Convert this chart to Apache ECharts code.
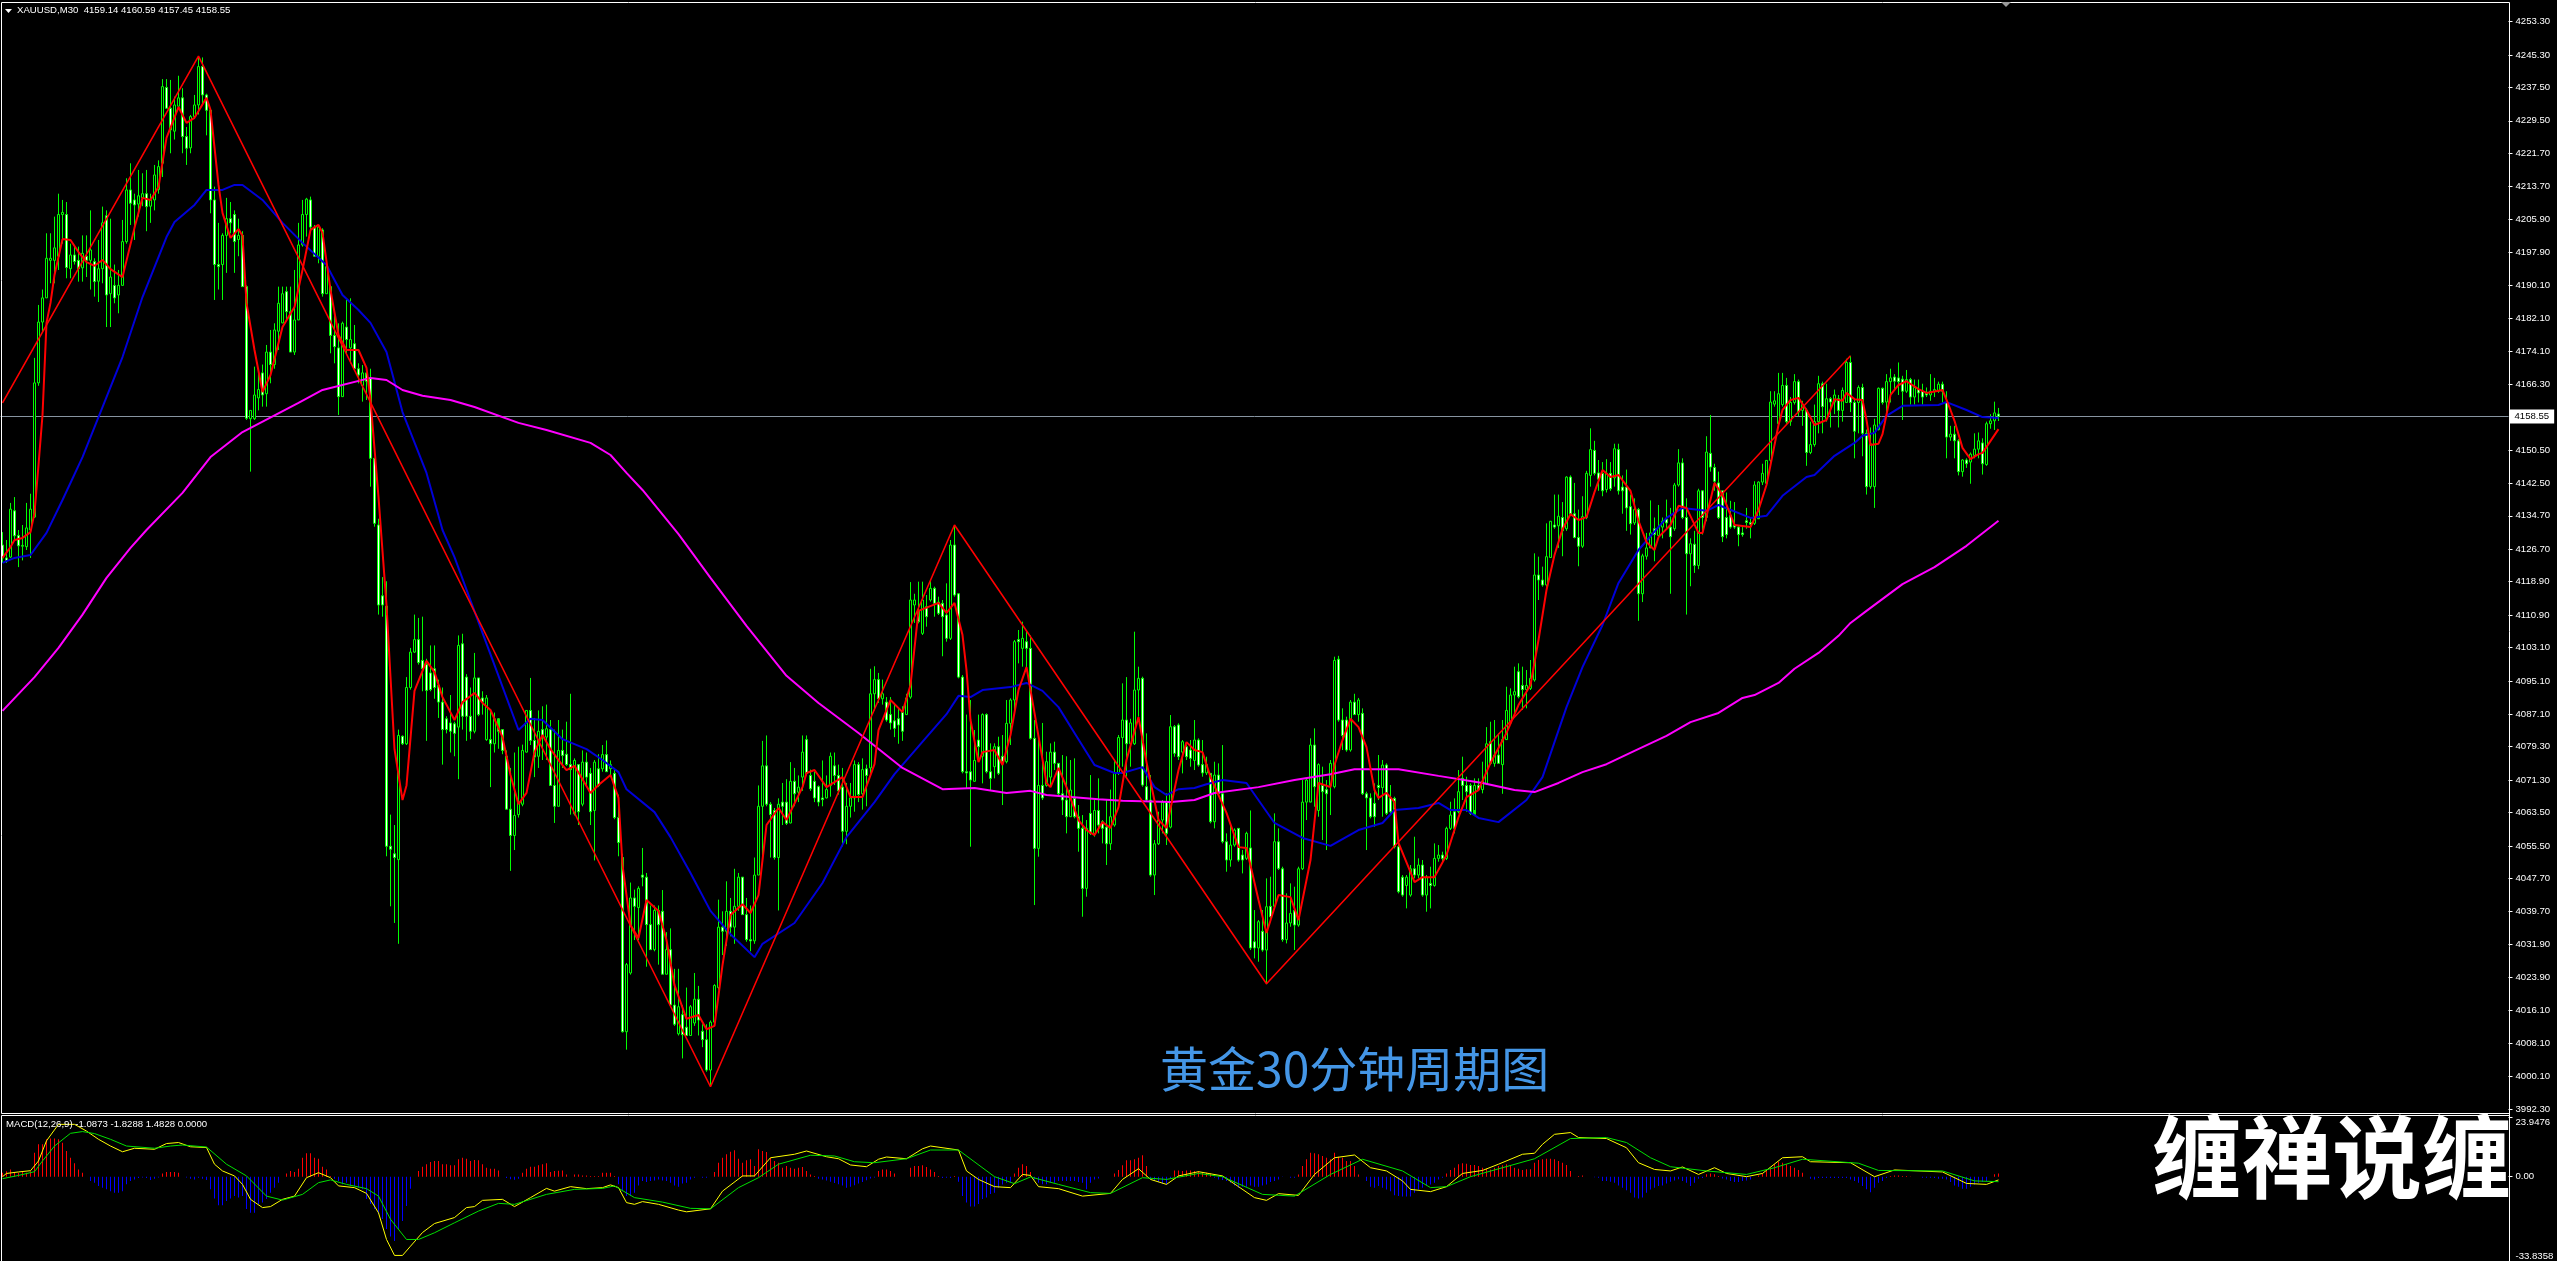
<!DOCTYPE html>
<html><head><meta charset="utf-8">
<style>html,body{margin:0;padding:0;background:#000;overflow:hidden}#c{width:2557px;height:1261px}</style>
<script src="https://cdn.jsdelivr.net/npm/echarts@6/dist/echarts.min.js"></script>
</head><body><div id="c"></div>
<script>
const slotCount = 627;
const priceTicks = [4253.3,4245.3,4237.5,4229.5,4221.7,4213.7,4205.9,4197.9,4190.1,4182.1,4174.1,4166.3,4150.5,4142.5,4134.7,4126.7,4118.9,4110.9,4103.1,4095.1,4087.1,4079.3,4071.3,4063.5,4055.5,4047.7,4039.7,4031.9,4023.9,4016.1,4008.1,4000.1,3992.3];
const macdTicks = [23.9476,0,-33.8358];
const lastPrice = 4158.55;
// candle rows: open, close, low, high
const candlesA = [[4127.7,4124.6,4123.4,4130.8],[4124.6,4124,4123.4,4128.9],[4124.8,4136.3,4124.6,4137.8],[4135.9,4129.9,4128.9,4139.2],[4130,4127.5,4122.4,4131.3],[4127.4,4127.6,4124,4132.5],[4127.3,4131.8,4126.5,4137.8],[4131.3,4136.3,4124.6,4140],[4134.4,4166.6,4134.2,4172.6],[4166.6,4181.2,4165.9,4185.3],
[4181.2,4187,4179,4189],[4187,4196.5,4187,4202.5],[4196,4196.5,4190.5,4202.5],[4196,4199,4190.5,4206.5],[4197,4207,4193.7,4212],[4207,4207.5,4200,4210.5],[4207,4194.3,4191.7,4210],[4194,4197.3,4191.7,4200],[4197.3,4195.7,4195,4199.7],[4196,4194,4190.9,4199.3],
[4194.2,4197.7,4190.9,4202],[4197,4196,4192,4202],[4196,4198.5,4189,4208],[4195.7,4190.9,4187.3,4196.5],[4191,4194,4186,4200.9],[4194,4205,4190.5,4208.9],[4206.7,4187.7,4180,4208],[4188,4192,4180,4206],[4190,4187,4185.7,4195],[4187.7,4190,4183.3,4193.7],
[4190,4200.5,4190,4205.7],[4200.5,4212.9,4200,4215.7],[4212.9,4209.7,4204.5,4219.3],[4210.5,4209.3,4200.9,4212],[4209.5,4211.5,4206.5,4217.7],[4211,4212,4209,4216.9],[4212,4208.9,4203,4217.7],[4209,4210.5,4205,4212],[4210.5,4216.5,4208,4218.9],[4213,4218.5,4212,4220],
[4219.3,4237.7,4216,4239.5],[4237.5,4232.5,4232.5,4239.5],[4232.5,4227.3,4221.7,4239.3],[4227,4233.3,4225,4235.3],[4233,4235,4232.9,4240.3],[4235,4225.7,4221.7,4237.3],[4225.7,4222.9,4218.9,4228],[4223,4230.5,4221.7,4230.9],[4230.5,4233.3,4230,4235.7],[4233.3,4242.5,4231,4245],
[4242.5,4235.7,4233.3,4244.7],[4235.7,4232,4226,4236],[4232,4210.5,4207.3,4232],[4210.5,4195,4186.5,4213.7],[4195,4194.5,4189,4205],[4195,4202,4186.5,4202.5],[4202,4206,4193,4211],[4206,4205,4202.5,4210],[4207,4200.5,4193,4208],[4201,4202,4197,4206],[4202,4189.7,4189.7,4203]];
const candlesB = [[4189.7,4158.1,4157.7,4190],[4158,4160,4145.3,4160],[4158,4163.7,4157.7,4170.5],[4163,4165,4160,4170],[4169,4163.7,4160.9,4171],[4164,4174,4160.9,4175.7],[4174,4171,4166.5,4179.3],[4171,4179.3,4170,4180.9],[4179,4185.7,4174.5,4189.7],[4181,4188,4180.9,4189.7],
[4188.5,4183.7,4181.7,4189.7],[4183.7,4174,4174,4189.7],[4174,4181.7,4173.3,4193.7],[4181.7,4199.7,4181.7,4205],[4199.7,4207,4199.3,4210.5],[4207,4210.7,4201.7,4211],[4210.5,4204,4203.3,4211.3],[4204,4197,4196.9,4204.5],[4197,4204,4195.3,4204.5],[4203.3,4188,4187.3,4203.7],
[4188,4194.5,4188,4195.3],[4189.7,4178,4173.7,4190],[4178,4175.3,4171.3,4184],[4175,4163.3,4158.9,4180.9],[4163.3,4180.9,4163.3,4181.3],[4180,4177,4173.7,4186.5],[4175,4177,4171.3,4186.9],[4176,4170,4170,4180.5],[4170,4168.5,4166.5,4171.3],[4166,4169,4162.1,4170.9],
[4169,4167,4162.5,4169.7],[4167.7,4148.5,4141.7,4170],[4148.5,4132.9,4132.1,4148.5],[4132.5,4113.3,4111,4134],[4115.5,4113.3,4110.5,4120],[4113,4055.4,4053,4119],[4055.4,4054.7,4041,4063],[4053.6,4052.7,4037,4060.5],[4052.2,4082,4032,4083.4],[4081.8,4080,4079.7,4082],
[4080,4093.5,4079.7,4096],[4093.5,4102,4093,4103],[4102,4105,4101.8,4111],[4105,4099.5,4099,4110.2],[4100,4098,4092.6,4110.5],[4099,4092.8,4080.7,4100.4],[4097,4093,4092.6,4103.6],[4098,4093.5,4090.8,4103.6],[4094,4090,4086.2,4095.4],[4090,4083.4,4075,4093.5],
[4086,4083.4,4082.5,4086.6],[4085,4083,4077.9,4091.7],[4084.8,4082.5,4077,4085.3],[4084,4103.6,4071.5,4106],[4104,4086.6,4083.4,4106.4],[4096,4086.6,4080.7,4096.7],[4086.6,4083,4081.1,4093.5],[4083,4095.8,4082.5,4101.8],[4095.8,4087,4086.6,4095.8],[4091,4090,4087,4092.6]];
const candlesC = [[4081,4091,4080.7,4091.7],[4081,4080,4069.6,4088],[4080,4086,4077.9,4087.5],[4086,4083,4078.8,4083.4],[4083.4,4078.4,4077.5,4083.4],[4077,4064.3,4064.3,4078.4],[4064.3,4058,4049.5,4074.2],[4058,4062.8,4054.5,4077.9],[4063,4066,4062.3,4079.3],[4065.5,4078.4,4065,4079.8],
[4078,4088,4077.9,4088],[4088,4080.8,4079.7,4095.8],[4080.8,4076.8,4072,4086.2],[4077,4083,4074.2,4088],[4083.4,4081.6,4076.1,4089],[4081.6,4083.6,4076.1,4089.4],[4083.4,4070,4070,4085.7],[4070,4065,4061,4083.4],[4065,4078.4,4065,4085.7],[4078.4,4077.2,4074.2,4083.4],
[4077.5,4075,4074.7,4085.3],[4075,4073.8,4063,4092],[4063.2,4076,4062.8,4076.5],[4075,4063.7,4060.5,4075],[4065.5,4075.6,4065,4078.4],[4075.6,4072,4070.1,4077.9],[4072.9,4063.7,4060.5,4074.2],[4064,4075.6,4052,4076.1],[4074,4070,4069.6,4077.5],[4074,4077.4,4073.3,4079.7],
[4077.4,4073.3,4073.3,4080.8],[4074,4075,4072.4,4076],[4072.9,4062.3,4061.9,4074.2],[4062.3,4056.3,4053,4067.8],[4052.7,4010.9,4010.7,4053.6],[4010.9,4027,4006.6,4027.4],[4025,4043,4024.6,4046.7],[4043,4041,4032.9,4045],[4040.7,4045.3,4032.9,4045.8],[4048.5,4048,4045.8,4055],
[4048,4036.6,4026.5,4049],[4036.6,4030.6,4030.6,4041.2],[4030.6,4040,4030.2,4041.2],[4040,4036.6,4027,4041.2],[4039.8,4024.7,4024.7,4044.9],[4024.7,4030.6,4024.7,4034.8],[4030.6,4017.3,4017.3,4035.7],[4017.3,4012.7,4012.3,4026],[4010.4,4016.9,4010,4026],[4015,4010.2,4004.5,4017.3],
[4012,4010,4010,4021.5],[4010,4016.9,4010,4017.3],[4013,4018.7,4012.3,4025],[4018.7,4013.7,4010,4021.9],[4011,4009,4007.2,4012.7],[4009,4001.7,4001.3,4012.7],[4001.7,4013.2,3998,4013.6],[4013.2,4022,4012.3,4022.3],[4021.5,4036,4021,4042.6],[4036,4035,4029.3,4039.8]];
const candlesD = [[4035,4039.8,4031.5,4047],[4039.8,4036,4033.8,4043],[4036,4041,4032,4050],[4041,4048,4039.9,4049],[4048,4039,4039,4048],[4039,4033,4032.5,4043],[4033,4032.7,4030.2,4041.2],[4032.7,4048.5,4032,4052.7],[4048.5,4065,4048.5,4070],[4065,4074.7,4052.7,4080.7],
[4074.7,4065.5,4065,4082],[4065.5,4063,4052.7,4066],[4064,4052.7,4052.2,4064.6],[4052.7,4065.5,4040,4066.9],[4066,4065,4060.5,4070.6],[4066,4060.9,4060.5,4071.5],[4061,4071,4060.9,4075.6],[4071,4068,4065,4074.2],[4068.4,4069.6,4066,4072.4],[4072,4078,4068.7,4082],
[4081,4072.9,4072.4,4082],[4072.4,4069.2,4068.7,4073.8],[4071,4067,4066,4073.3],[4069.7,4066,4065,4070],[4067,4066.6,4065,4076],[4067,4069,4066.9,4072.4],[4070,4077,4067.3,4077.9],[4074.7,4072.4,4070.1,4077.9],[4072.4,4068.7,4067.8,4075],[4069.6,4059,4055.4,4074.2],
[4059,4065,4055.9,4070.6],[4065,4067,4062.3,4070.6],[4067,4075,4063.7,4076],[4075,4067.8,4066,4075.6],[4068,4073.8,4064.2,4076.5],[4074,4072.4,4065,4075],[4074.2,4092,4072.9,4098],[4092,4095.4,4088,4098.6],[4095.4,4090.8,4089.8,4097],[4090.8,4092,4089.4,4095.4],
[4090,4085.7,4085.3,4091.2],[4087,4085,4083.4,4091.2],[4085.5,4083.7,4081.6,4089.8],[4086,4084.5,4080,4088.5],[4087.5,4083,4080.7,4089],[4087,4091,4087,4092],[4091.2,4114.5,4090.8,4118.8],[4113.3,4114.5,4109,4116],[4112,4109.3,4108.9,4118.9],[4106.5,4114.5,4106.1,4118.9],
[4112.9,4110.5,4108.1,4115.7],[4114.5,4117.3,4114.1,4119.3],[4117.3,4113.7,4110.5,4117.7],[4114,4111.3,4110.9,4115.3],[4113.7,4110.5,4101,4114.5],[4110.9,4105.3,4104.5,4118.5],[4105.3,4127.7,4104.9,4128.9],[4127.7,4115.7,4115.3,4132.5],[4116,4096,4095.7,4116.1],[4096,4073.3,4072.9,4096.5]];
const candlesE = [[4073.3,4073,4069.3,4087],[4073.3,4071.3,4055.3,4090.5],[4071,4076,4070.9,4083.3],[4080.9,4079.3,4076.1,4087],[4077,4087,4070.5,4087.3],[4087,4073.3,4072.9,4087.3],[4073.3,4071.7,4068.9,4080.1],[4074.5,4079.3,4071.7,4080.1],[4079.3,4072.9,4072.5,4081.7],[4077,4075.7,4065.3,4082.1],
[4075.7,4084.9,4075.3,4090.5],[4084.9,4090.5,4079.7,4090.9],[4090.5,4104.5,4087.3,4104.9],[4105,4104.5,4099.3,4107.3],[4102.9,4105.3,4098.5,4109.3],[4104.5,4102.9,4098,4107],[4102.9,4081.3,4081,4106],[4081.3,4054.9,4041.3,4085.7],[4054.9,4070,4052.9,4080.9],[4070,4067,4066.5,4085],
[4070,4075.7,4069.7,4078.1],[4072,4078,4069.7,4080.1],[4078,4075.3,4073.7,4080.5],[4075.3,4068,4067.3,4075.3],[4068,4066.5,4062.9,4077.3],[4066.5,4062.5,4058.5,4077],[4062.5,4068.9,4062.5,4076.1],[4066.9,4062.5,4062.1,4076.5],[4062.5,4059.7,4054.1,4065.3],[4059.7,4045.3,4038.5,4062.9],
[4045.3,4059.7,4043.3,4061.7],[4063.3,4058.5,4058.1,4072.5],[4058.5,4064,4057.7,4066.5],[4064,4060.5,4058.5,4071.7],[4061.3,4059.7,4056.1,4061.7],[4060,4056,4050.9,4066.5],[4056,4062.5,4054.5,4069],[4060.5,4072.9,4060.1,4076.1],[4072.9,4081.5,4072.5,4082.1],[4081.5,4085.7,4074.5,4094.5],
[4085.7,4080,4072.1,4096],[4080,4085,4074.5,4086],[4080,4092.9,4079.7,4106.9],[4092.9,4095.7,4086.5,4098.5],[4095.7,4070.1,4069.7,4096.1],[4069.7,4066.5,4066.1,4082.5],[4066.5,4048.5,4048.1,4072.5],[4048.5,4056,4043.7,4056.9],[4056,4061.7,4055.7,4063.7],[4061.7,4066,4058.5,4066.5],
[4066,4058.5,4055.7,4068.1],[4060,4084.1,4059.7,4086.9],[4084.1,4077.7,4076.9,4084.5],[4084.5,4076.9,4076.1,4084.9],[4078,4080.5,4072.9,4080.9],[4079.3,4076.9,4076.1,4079.7],[4078.5,4076.5,4074.5,4080.9],[4076,4080.9,4073.7,4085.7],[4080.9,4074.9,4074.5,4081.3],[4075,4073,4072.1,4080.9]];
const candlesF = [[4073,4075,4072.5,4076.9],[4072.9,4061.3,4060.9,4072.9],[4061.3,4072.5,4059.7,4075.7],[4072.5,4068,4068.1,4075.3],[4068,4056.5,4056.1,4079.7],[4056.5,4052.1,4049.3,4058.5],[4052.1,4055.7,4050.5,4060.5],[4055.7,4059.3,4055.3,4059.7],[4059.7,4052.1,4051.7,4059.7],[4053.3,4052.1,4048.9,4054.5],
[4052.5,4058.5,4052.1,4058.9],[4055,4031,4030.5,4064],[4032.5,4031,4028.5,4040.1],[4031,4037.3,4027.7,4037.7],[4035,4030.5,4030.1,4040.1],[4030.5,4040.9,4022.3,4047.7],[4041,4038.5,4037.7,4048.1],[4041,4056.5,4040.9,4063.3],[4056.5,4050.1,4049.7,4059.7],[4050,4033,4032.5,4050.5],
[4033,4037,4032.1,4044.1],[4037,4039.3,4036.1,4046.5],[4040,4036.5,4030.5,4045.7],[4036.5,4050,4036.1,4050.5],[4050,4066,4049.7,4071.3],[4066,4071.3,4061.7,4071.7],[4066,4079.7,4066.1,4081.3],[4079.7,4069.7,4064.9,4083.7],[4064,4075,4062.5,4075.3],[4070,4068.5,4056.9,4074.5],
[4069,4068,4054.5,4071.3],[4070,4075.3,4062.9,4076.1],[4069.7,4100,4069.3,4100.9],[4100.3,4085.7,4085.3,4101.1],[4085.7,4082,4078.5,4088.5],[4085.7,4078.5,4078.1,4086.5],[4078.5,4090,4078.1,4090.5],[4090,4087,4086.9,4092],[4087,4090.5,4085.3,4091],[4087.3,4068,4067.7,4088.5],
[4068,4067,4054.5,4068.5],[4067,4062.5,4062.1,4068.1],[4065.7,4062.5,4060.1,4070.5],[4070,4069.5,4066.5,4077.3],[4069.5,4074.9,4062.5,4076.1],[4074.9,4063.3,4062.9,4075.3],[4067,4063.7,4063.3,4070.1],[4066.9,4055.3,4054.9,4067.3],[4055.3,4044.5,4044.1,4056.9],[4048,4043.7,4043.3,4048.5],
[4046,4048,4040.5,4048.5],[4043.7,4050,4043.3,4050.9],[4050,4048.5,4047.7,4057.7],[4048.5,4050.9,4047.7,4052.5],[4050.9,4043.7,4043.3,4052.1],[4043.7,4048,4039.7,4048.5],[4046.5,4046,4040.5,4050.5],[4046,4052.5,4045.7,4056.1],[4052.5,4053.3,4051.7,4055.7],[4053.3,4052.5,4051.7,4054.1]];
const candlesG = [[4052.5,4059.7,4052.1,4060.1],[4059.7,4062.9,4059.3,4066.1],[4063.7,4059.7,4058.5,4066.9],[4063.7,4068.5,4063.3,4073.7],[4071.7,4070,4066.5,4076.9],[4070,4068.5,4063.7,4072.1],[4070,4063.3,4062.9,4070.5],[4063,4070,4064.1,4071.7],[4070,4069,4068.9,4071.7],[4069,4071,4068.1,4075.7],
[4070.5,4080,4070.1,4084],[4080.5,4075.3,4074.9,4085.3],[4075.3,4077.3,4074.5,4085.7],[4077.3,4075.3,4075.3,4082.5],[4075,4081,4068,4085.7],[4081,4088,4080.9,4093.7],[4085,4091.7,4084.5,4093.3],[4091.7,4092.5,4087.3,4098.5],[4097.3,4091.3,4090.9,4099.3],[4094,4093,4088.1,4098.5],
[4093,4094,4088.5,4097.7],[4093.3,4095.7,4092.9,4100.1],[4095.3,4120.5,4094.9,4125.7],[4120.5,4119.3,4114.5,4124.9],[4119.3,4118.1,4117.7,4122.5],[4118.1,4124.9,4117.7,4132.9],[4124.7,4133.4,4124.7,4133.3],[4132.5,4132,4131.6,4139.8],[4132.3,4134.6,4127,4139.8],[4134.3,4131.1,4125,4138],
[4131.6,4144,4131.1,4144.2],[4144,4135.2,4134.8,4144.4],[4135.2,4129.5,4129.3,4142.6],[4129.5,4127.4,4122.6,4136.2],[4127.4,4134.5,4127,4139.4],[4134.3,4144.9,4133.9,4145.5],[4144.4,4150.6,4141.7,4155.7],[4150.4,4144.9,4144.4,4152.7],[4145,4143.5,4140.7,4148.1],[4144.9,4140.7,4139.4,4147.6],
[4141,4144.9,4140.3,4148.3],[4144.9,4141.2,4140.7,4147.6],[4143.8,4150.8,4141.7,4152],[4150.6,4140.7,4139.8,4152],[4141.6,4140.7,4135.2,4144.4],[4141.6,4136.6,4131.1,4145.8],[4136.9,4132.8,4130.2,4139.8],[4133,4136.2,4132.5,4138.9],[4136.2,4116,4109.5,4136.6],[4116,4125.1,4114,4125.6],
[4125,4127,4124.2,4130.6],[4127,4130.6,4127.4,4138.4],[4131.6,4130.2,4123.8,4134.3],[4130,4132,4129.7,4137.3],[4132,4133.4,4129.3,4134.3],[4133.9,4133,4131.6,4138.6],[4132,4129.7,4116,4136.6],[4131.6,4142.1,4131.1,4142.6],[4142.1,4147.4,4141.7,4150.7],[4147.4,4134.3,4133.9,4148.5],
[4134.3,4125.6,4111,4138.9],[4125.6,4128,4117.8,4129.3],[4127.9,4122.8,4121,4131.1],[4122.8,4140.7,4121.9,4141.2],[4140.7,4134.3,4130.2,4140.9],[4134.3,4150,4133.4,4153.8],[4149.7,4146.4,4145.3,4158.9],[4146.3,4143,4140.7,4147.2],[4142.6,4134.3,4133.9,4145.3],[4140.7,4129.7,4128.4,4140.7]];
const candlesH = [[4134.3,4130.2,4129.3,4140.3],[4134.8,4132,4131.6,4138.3],[4132.5,4132,4131.6,4138],[4132,4130.2,4127.4,4132.5],[4130.6,4130.2,4129.7,4132],[4133.5,4133.1,4131.6,4136.6],[4133.1,4132.7,4129.3,4134.3],[4132.9,4142.1,4132.5,4143],[4134,4142.8,4134.3,4143],[4142.8,4144.9,4142.1,4147.2],
[4142.5,4148,4142.6,4148.1],[4148,4162,4147.6,4164.6],[4161.5,4162.3,4160.9,4164.6],[4156.8,4164,4156.3,4169],[4161.4,4166,4160.9,4169],[4166,4157.3,4156.8,4167.8],[4157.3,4161.9,4156.3,4163.2],[4161.9,4166.9,4161.4,4168.7],[4166.9,4159.6,4158.6,4167.4],[4160,4161.4,4156.3,4162.3],
[4160,4149.9,4146.7,4160.5],[4149.9,4151.8,4149.5,4157.3],[4151.8,4157.3,4151.3,4161.4],[4157.3,4166.4,4154.5,4168.3],[4166.4,4160.9,4154.5,4166.9],[4158,4162.8,4157.3,4166.4],[4162.8,4162,4155.9,4163.2],[4162,4163.7,4159.1,4165],[4162.8,4160,4155.9,4163.7],[4160,4164.8,4157.3,4165.5],
[4161.9,4171.5,4161.9,4172.4],[4171.5,4161.9,4159.6,4173.1],[4161.9,4155,4148.5,4162.8],[4161.9,4165.5,4154.5,4166],[4165.5,4154.5,4149,4166.4],[4154.5,4141.7,4139.8,4155.4],[4141.7,4152,4141.2,4155.9],[4141.7,4156.5,4136.6,4158],[4155.4,4165.3,4155.2,4165.5],[4165.3,4161.9,4161.4,4165.5],
[4162,4166.9,4158.6,4168.7],[4166.9,4167.8,4161.9,4170],[4168,4167,4165,4168.7],[4167.8,4166.9,4163.7,4171.5],[4167.5,4164.6,4157.7,4168.3],[4164.6,4167.4,4164.2,4169.7],[4167.4,4163.2,4161.4,4167.8],[4163.2,4165.5,4161.4,4167.4],[4165,4164.2,4161.9,4167.4],[4164.6,4163.2,4161.4,4166.4],
[4164.1,4163.7,4163.2,4165.5],[4163.7,4164.6,4162.3,4168.7],[4164.6,4165,4163.2,4167.8],[4164.6,4166.3,4164.2,4166.9],[4166.3,4164.6,4161.9,4166.9],[4161.9,4153.6,4148.5,4164.6],[4153.6,4154.3,4152.7,4156.3],[4154.3,4152.7,4148.5,4156.3],[4152.7,4145.3,4144.4,4153.1],[4145.3,4148.1,4144.1,4148.3],
[4148.1,4147.2,4146.2,4148.5],[4147.6,4149.5,4142.4,4149.9],[4149.2,4150.7,4148.5,4154.5],[4150.7,4152.7,4148.5,4154.7],[4152.2,4147.2,4144.6,4153.3],[4147,4156.8,4146.7,4157.3],[4156.8,4157.5,4155.6,4159.1],[4157.5,4159.4,4155.3,4162.1],[4159.14,4158.55,4157.45,4160.59]];
const zigzagPoints = [[0,4161.8],[49,4245],[177,3997.7],[238,4132.5],[316,4022.4],[462,4173.1]];
const fastMaPoints = [[0,4124.6],[2,4127.2],[3,4128.9],[5,4129.4],[7,4130.8],[8,4135.4],[9,4146.9],[10,4158.9],[11,4181],[12,4185.8],[13,4192.5],[15,4201.1],[17,4200.9],[19,4198],[21,4195.6],[23,4194.7],[25,4196.1],[27,4193.9],[30,4192],[33,4203.8],[35,4211],[37,4210.5],[39,4213.6],[41,4225.4],[44,4232.8],[46,4229],[48,4230.2],[51,4235],[52,4232.1],[54,4214.1],[55,4207.4],[57,4201.4],[59,4203.5],[60,4201.9],[61,4185.8],[63,4174.5],[65,4164.4],[67,4168.5],[70,4180],[73,4184.8],[75,4193.7],[77,4203.3],[79,4204.5],[80,4202.6],[82,4188.9],[84,4178.1],[86,4174.5],[89,4174.5],[91,4170.2],[92,4162.5],[94,4139.2],[96,4113.3],[98,4078.7],[100,4066.5],[101,4070],[103,4092.7],[106,4099.9],[108,4097.2],[110,4091.2],[113,4085.7],[115,4090],[118,4092.2],[120,4089.8],[122,4088.1],[125,4081.6],[127,4072.5],[129,4065.5],[131,4068.2],[133,4078],[135,4082.1],[137,4078.7],[139,4076.1],[141,4073.7],[143,4074.7],[145,4071.5],[147,4068.2],[149,4070.1],[152,4072.5],[154,4067],[155,4050.9],[157,4036.5],[159,4033.4],[161,4042.5],[164,4039.9],[166,4032.9],[168,4022.1],[171,4014],[174,4014.9],[176,4011.5],[178,4012.3],[180,4026.9],[182,4038.9],[185,4041.5],[187,4039.4],[189,4043.7],[191,4060.5],[194,4064.6],[196,4061.7],[200,4069.6],[201,4073],[203,4073.7],[206,4069.6],[210,4072],[212,4067.2],[215,4067.2],[218,4075.1],[219,4083.3],[222,4090.5],[225,4087.6],[227,4094.1],[229,4111.9],[234,4113.8],[236,4111.4],[238,4113.8],[240,4106.1],[241,4097.7],[242,4085.7],[244,4075.6],[245,4078],[248,4078.5],[250,4074.9],[252,4082.1],[254,4092.9],[256,4098.4],[258,4087.4],[261,4070.6],[262,4069.6],[264,4074.2],[266,4069.6],[269,4061.7],[271,4059.3],[273,4058.1],[275,4061.2],[277,4059.8],[279,4064.8],[281,4076.1],[284,4086.4],[286,4075.6],[289,4061.7],[291,4059.8],[294,4073.7],[296,4080.4],[298,4078.5],[300,4078],[302,4072],[306,4063.4],[309,4055.2],[311,4055],[314,4042.5],[316,4034.6],[319,4043.7],[322,4043.2],[324,4037.7],[327,4052.1],[329,4070.6],[332,4069.6],[333,4074.9],[335,4080.9],[337,4086],[339,4084],[341,4079.2],[343,4068.9],[344,4067],[346,4068.2],[348,4066],[349,4056.2],[352,4049.2],[353,4046.8],[355,4048],[358,4048],[361,4053.3],[364,4062.4],[366,4067.2],[369,4068.9],[372,4075.4],[376,4082.6],[379,4089.3],[382,4094.1],[384,4104.9],[386,4116.9],[388,4125.3],[390,4131.5],[392,4135.1],[394,4133.7],[396,4134.4],[398,4140.4],[400,4145.7],[402,4144],[404,4144.5],[407,4140.7],[409,4133.5],[411,4128.4],[413,4126.5],[414,4129.6],[417,4132.5],[419,4137.1],[421,4136.6],[424,4130.6],[425,4130.6],[428,4142.6],[430,4139.7],[433,4132.5],[437,4132],[439,4136.1],[441,4142.1],[444,4156.5],[445,4160.1],[447,4162.5],[449,4163],[451,4160.1],[453,4156.5],[456,4157.7],[458,4162.7],[460,4162.3],[461,4164.2],[463,4162.7],[465,4162.5],[466,4157.7],[467,4151.7],[469,4152],[470,4154.3],[472,4163.7],[474,4166.1],[476,4167],[479,4165.1],[481,4164.2],[485,4164.9],[487,4160.1],[488,4157.5],[490,4151],[492,4148.3],[494,4149.5],[495,4149.8],[499,4155.5]];
const midMaPoints = [[0,4123.4],[3,4124.6],[7,4125.3],[11,4130.6],[15,4138.5],[20,4148.8],[24,4158.4],[30,4172.8],[35,4187.2],[41,4201.6],[43,4205.2],[48,4209.3],[51,4212.9],[55,4212.9],[58,4214.1],[60,4214.1],[65,4210.5],[70,4205],[75,4200.2],[81,4194.9],[85,4187.7],[89,4184.1],[92,4181],[96,4174],[100,4159.6],[106,4145],[110,4131.3],[113,4124.8],[119,4109.2],[124,4096.3],[129,4083.3],[132,4086],[135,4085.7],[140,4081.1],[146,4078.7],[150,4076.1],[154,4073.2],[156,4069.1],[163,4063.6],[167,4057.6],[172,4049],[177,4039.9],[182,4034.3],[188,4028.8],[190,4032],[198,4037],[205,4046.6],[211,4057.6],[218,4066],[223,4072.7],[231,4081.6],[236,4087.1],[239,4091.5],[242,4091.2],[245,4092.9],[252,4093.6],[256,4094.6],[260,4092.7],[264,4088.8],[268,4082.6],[273,4074.9],[278,4073],[280,4073],[285,4074.4],[288,4069.6],[291,4067.7],[294,4069.1],[298,4069.4],[301,4070.3],[305,4071.3],[311,4070.6],[318,4061],[325,4057.4],[332,4055.5],[339,4059.3],[345,4061],[348,4064.1],[354,4064.6],[359,4065.8],[362,4064.1],[366,4064.1],[369,4062.2],[374,4061.2],[381,4066.5],[385,4072],[391,4088.8],[395,4098.4],[400,4108.5],[404,4118.6],[409,4126.5],[416,4134.2],[420,4136.6],[426,4135.9],[429,4137.3],[437,4134.2],[441,4134.7],[445,4139.5],[451,4144],[453,4144.5],[458,4149.1],[463,4152.2],[465,4153.9],[468,4154.6],[471,4158.7],[475,4161.1],[484,4161.3],[486,4162],[491,4160.1],[495,4158.4],[499,4158.2]];
const slowMaPoints = [[0,4087.9],[8,4096],[14,4103],[20,4111],[26,4119.8],[32,4127],[36,4131.3],[45,4140.2],[52,4148.8],[60,4154.8],[74,4161.8],[80,4164.9],[92,4167.8],[96,4167.3],[100,4164.9],[105,4163.5],[112,4162.5],[118,4160.8],[129,4157],[136,4155.3],[147,4152.2],[152,4149.3],[156,4145],[160,4140.9],[169,4130.3],[177,4119.8],[186,4108.3],[196,4096.3],[204,4089.8],[214,4082.6],[225,4074.2],[235,4069.1],[243,4069.4],[251,4068.2],[257,4068.7],[261,4067.7],[274,4066.7],[280,4066.3],[292,4066],[298,4066.5],[303,4068.2],[314,4069.6],[323,4071.3],[332,4072.7],[338,4073.9],[349,4073.9],[359,4072.3],[370,4070.6],[378,4068.9],[383,4068.4],[389,4070.6],[395,4073.2],[401,4075.1],[408,4078.3],[416,4081.9],[422,4085.2],[429,4087.4],[435,4091],[438,4091.7],[444,4094.6],[448,4098],[454,4101.8],[459,4105.9],[462,4109],[466,4111.9],[475,4118.3],[483,4122.4],[491,4127.5],[499,4133.5]];
const macdPoints = [[0,0],[1,1.3],[4,1.9],[7,2.4],[9,6.3],[11,14.4],[14,21],[18,21],[21,18.3],[24,15],[27,12.3],[30,10],[33,11.4],[38,11],[41,13.3],[44,13.7],[47,12],[51,11.7],[53,5],[55,2.3],[58,0.3],[60,-3.1],[62,-9.1],[65,-12.4],[67,-12],[70,-9.1],[73,-7.8],[76,-0.4],[79,1.6],[82,-0.4],[84,-3.7],[88,-4.4],[91,-6.7],[94,-14.5],[96,-25.2],[98,-31.6],[100,-31.6],[102,-27.9],[105,-22.4],[108,-18.8],[113,-16.4],[116,-12.4],[118,-12],[120,-9.5],[125,-9.1],[128,-12],[132,-8.4],[136,-4.7],[138,-5.8],[142,-4],[146,-4.8],[150,-4.4],[152,-3.3],[154,-4.4],[156,-10.4],[158,-11.1],[160,-10],[164,-11.1],[169,-13.4],[171,-14.1],[177,-12.9],[180,-5.8],[185,0.3],[188,0.3],[192,7.6],[198,9],[201,10.3],[206,8],[209,7.2],[212,4.7],[216,4],[219,7],[221,7.9],[226,7.2],[230,11.2],[232,12.3],[239,10.7],[241,2.3],[244,-1.1],[248,-4],[252,-4.4],[255,0.9],[257,0.5],[259,-4],[264,-4.8],[270,-7.8],[277,-6.7],[280,-1.1],[284,3.2],[287,-1.1],[291,-3.1],[294,0.3],[299,2],[305,0.3],[309,-4],[313,-8.4],[316,-9.5],[319,-6.8],[324,-7.5],[328,0.9],[333,7.6],[338,8.7],[342,3.6],[346,2.3],[350,-1.7],[352,-5.1],[357,-6],[361,-4],[365,1.3],[370,2.5],[374,5],[380,9],[383,9.4],[385,13],[388,17],[392,17.7],[394,15.7],[401,15.3],[406,11.6],[409,5.6],[413,2.9],[417,2.3],[420,3.9],[424,0.9],[428,3.6],[431,1.3],[436,0],[440,1.3],[445,7.6],[450,8],[452,6],[462,5.6],[468,0],[473,2.7],[485,1.9],[491,-2.7],[496,-3.1],[499,-1.3]];
const signalPoints = [[0,-0.8],[4,0.5],[8,2],[10,6.3],[13,12.3],[17,17.4],[20,18.1],[23,17.3],[27,15],[31,12.3],[38,11.4],[42,12.3],[45,12.7],[51,11.9],[56,5],[61,0.3],[66,-7.8],[70,-9.4],[75,-7.1],[79,-2.4],[82,-1.3],[86,-3.1],[91,-4.8],[94,-7.8],[97,-17.1],[101,-25.2],[104,-25.2],[108,-22.5],[113,-18.5],[119,-13.8],[124,-10.7],[128,-11.1],[136,-7.1],[143,-5.1],[150,-4.7],[153,-3.7],[158,-8.4],[165,-10.2],[172,-12.7],[177,-12.9],[184,-4.4],[189,-0.4],[194,5],[202,8.6],[208,8.3],[213,6],[218,5.6],[226,7.2],[232,10.7],[239,10.7],[248,0],[253,-2.8],[257,-0.1],[264,-3.1],[272,-6.4],[277,-6.7],[285,-0.4],[291,-1.1],[299,1.3],[305,0],[315,-7.1],[323,-7.8],[332,0.9],[340,7],[350,2.3],[357,-4.4],[361,-4],[367,0],[375,3.6],[383,7.2],[392,15.3],[401,15.7],[406,13.7],[412,7.6],[417,4],[426,2.3],[436,0.9],[443,3.6],[450,7],[464,5.4],[469,2.5],[485,2.3],[493,-1.7],[499,-2]];
const histogramA = [1.6,2.2,2.9,1.9,1.6,1.9,1.6,2.2,9.6,13,13,15,15.3,15.3,15,13.6,10.3,7.6,5.4,2.9,1.6,0,-1.7,-2.4,-3.7,-4.4,-5,-5.8,-6.4,-6.4,-5.8,-3,-1.7,-1.1,-.5,-.3,-.5,-1.3,-.8,-.3,1.3,1.9,1.9,1.9,1.6,0,-.3,-.8,-1.1,-.4,-.8,-1.3,-5,-8.8,-11.5,-11.5,-9.8,-8.8,-7.8,-8.4,-7.8,-13,-14.5,-14.5,-11,-10.4,-9,-6.4,-4.4,-2.4,0,1.3,2.3,1.9,3.2,7.6,9.4,9.4,7.6,7.2,4,2.9,.3,-.8,-1.7,-3,-2.4,-3.7,-3.7,-4.4,-5,-9,-11,-13,-15,-17,-21,-24,-25.8,-21,-17.8,-11.8,-4.8,0,2.3,4,5,5.9,6.3,6.3,5,5,4.6,4.6,7,7.6,7.2,6.3,6.7,6.6,5,3.6,3.2,3.2,2.5,0,-.5,-1,-1.2,-.8,1.6,3.2,4,4,4.6,5,5.4,1.9,2.3,2.4,2.5,.9,0,.9,.9,.5,.5,.3,.3,.3];
const histogramB = [1.6,1.6,1.6,.3,-3,-5.8,-7.8,-7.8,-6.4,-3.5,-1.7,-2.1,-1.7,-1.5,-1.1,-1.5,-1.7,-2.4,-3.5,-4,-2.7,-2.4,-1.1,-.4,0,-.4,-.4,0,1.9,5.6,7.6,9,10,10.6,7.2,5.6,6.6,7,4.3,11,10.3,9.9,7.6,6.3,5.6,3.6,4.3,3.6,3.2,3.6,3.9,2.3,.9,.3,-.8,-1.1,-1.5,-2,-2.5,-3,-3.5,-4.4,-4,-3.4,-2.7,-2.1,-1.4,-.7,-.3,2.3,2.9,2.9,2.3,1.3,0,0,0,3.6,4.3,4.3,4.6,3.9,2.9,1.9,.3,-.5,-.4,-.5,.3,-2,-7.8,-10.4,-12,-12,-11,-9,-8.4,-7,-6.4,-4.4,-3.1,-2.4,-2.4,1.3,3.6,5,4.3,1.9,-1.1,-2.4,-3,-3,-2.4,-2.4,-1.7,-1.7,-1.7,-1.7,-1.7,-2.1,-2.4,-5,-2.4,-1.1,-.7,0,0,0,1.3,2.7,4.6,6.6,6.6,7,7.6,8.6,4.3,-1.1,-1.7,-2.1,-2.8,-3.1,-.5,2.5,2.5,2.3,2.5,2.5,2.3,2.3,1.9,1.6,1.3];
const histogramC = [-.4,-1.1,-1.3,-1.7,-2.4,-3.5,-4.4,-4,-4,-3.5,-4,-4,-3.5,-3.1,-2.1,-1.7,-1.1,-.1,0,-.4,-.4,.9,4.3,7,9.6,9.4,9,8.3,7.6,7,9.6,8,7.6,6.3,6.3,4.3,.9,0,-1.7,-4,-4.4,-3.7,-4.4,-5.1,-5.8,-7.5,-7.8,-8,-8,-8,-6.4,-5.1,-4.4,-3.5,-3.1,-2.4,-1.1,-.4,1.3,2.7,3.6,5,5.4,5.2,4.7,4.7,4.3,3.6,3.2,2.9,3.6,4.3,4.6,5,4.3,3.6,3.2,2.7,3,3,5.6,6.7,7,7.2,7.2,7,6.3,5.6,4.7,2.3,0,.3,.5,0,0,-.2,-.4,-1.7,-1.7,-2,-2.4,-3.5,-4.4,-5.4,-6.4,-8.4,-8.8,-8.4,-6.4,-5.1,-4.4,-3.7,-3.5,-2.7,-2,-1.5,-1,-1.7,-2.4,-3.7,-2.4,-.8,-.5,1,1.3,1,.3,-.7,-1.1,-1.7,-2.1,-2.1,-1.7,-1.5,-1.1,0,.5,1.3,2.3,3.2,5,6,5.6,5,4.3,3.6,2.7,1.6,0,-.8,-1.1,-.5,-.5,-.5,-.5,-.5,-.5,-.5,-.5,-1.1,-1.7,-2.4,-3.7,-5,-6.2,-4.4,-2.4,-1.7,-.5,.3,.5,.5,.3,.3,.1,0,0,-.4,-.4,-.4,-.5,-.8,-.8,-1.1,-2.1,-3.5,-4,-4.8,-4.8,-4,-3.1,-2.4,-2.1,-1.7,0,1,1.3];

const candles = [...candlesA,...candlesB,...candlesC,...candlesD,...candlesE,...candlesF,...candlesG,...candlesH];
const histogram = [...histogramA,...histogramB,...histogramC];
const slots = Array.from({length:slotCount},(_,k)=>k);
const FONT = '"Liberation Sans"';
const chart = echarts.init(document.getElementById('c'),null,{renderer:'canvas',width:2557,height:1261});
const line = (name,data,color,width,x,y,z)=>({name,type:'line',xAxisIndex:x,yAxisIndex:y,data,symbol:'none',smooth:false,z,clip:true,silent:true,lineStyle:{color,width},animation:false});
chart.setOption({
  animation:false,backgroundColor:'#000',
  grid:[{left:0.5,top:2,width:2508,height:1111},{left:0.5,top:1117,width:2508,height:144}],
  xAxis:[0,1].map(g=>({type:'category',gridIndex:g,data:slots,show:false,boundaryGap:true})),
  yAxis:[
   {type:'value',gridIndex:0,position:'right',min:3991.4,max:4258,scale:true,splitLine:{show:false},axisLine:{show:false},
    axisTick:{show:true,length:4,lineStyle:{color:'#fff'},customValues:priceTicks},
    axisLabel:{color:'#fff',fontFamily:FONT,fontSize:9.6,margin:7,customValues:priceTicks,formatter:v=>Number(v).toFixed(2)}},
   {type:'value',gridIndex:1,position:'right',min:macdTicks[2],max:macdTicks[0],splitLine:{show:false},axisLine:{show:false},
    axisTick:{show:true,length:4,lineStyle:{color:'#fff'},customValues:macdTicks},
    axisLabel:{color:'#fff',fontFamily:FONT,fontSize:9.6,margin:7,customValues:macdTicks,verticalAlignMaxLabel:'bottom',verticalAlignMinLabel:'top',formatter:v=>v===0?'0.00':String(v)}}
  ],
  series:[
   {name:'XAUUSD',type:'candlestick',xAxisIndex:0,yAxisIndex:0,data:candles,barWidth:3,z:2,silent:true,large:false,progressive:0,
    itemStyle:{color:'#000',color0:'#fff',borderColor:'#00ff00',borderColor0:'#00ff00',borderWidth:1},
    markLine:{silent:true,symbol:'none',animation:false,z:1,lineStyle:{color:'#8794a0',width:1,type:'solid'},
      data:[{yAxis:lastPrice}],
      label:{show:true,position:'end',distance:1,formatter:()=>lastPrice.toFixed(2),color:'#000',backgroundColor:'#fff',fontFamily:FONT,fontSize:9.6,padding:[2,5,2,5]}}},
   line('MA mid',midMaPoints,'#0000d8',2,0,0,4),
   line('MA slow',slowMaPoints,'#ff00ff',2,0,0,4),
   line('MA fast',fastMaPoints,'#ff0000',2,0,0,5),
   line('ZigZag',zigzagPoints,'#ff0000',1.6,0,0,5),
   {name:'Histogram',type:'bar',xAxisIndex:1,yAxisIndex:1,data:histogram,barWidth:1,z:2,silent:true,
    itemStyle:{color:p=>p.value>=0?'#ff0000':'#0000ff'}},
   line('MACD',macdPoints,'#ffff00',1,1,1,4),
   line('Signal',signalPoints,'#00e000',1,1,1,5)
  ],
  graphic:[
   {type:'polyline',silent:true,z:20,shape:{points:[[1.5,1113.5],[1.5,2.5],[2509.5,2.5],[2509.5,1261]]},style:{stroke:'#fff',lineWidth:1,fill:null}},
   {type:'line',silent:true,z:20,shape:{x1:1.5,y1:1113.5,x2:2509.5,y2:1113.5},style:{stroke:'#fff',lineWidth:1}},
   {type:'polyline',silent:true,z:20,shape:{points:[[1.5,1261],[1.5,1115.5],[2509.5,1115.5]]},style:{stroke:'#fff',lineWidth:1,fill:null}},
   {type:'polygon',silent:true,z:20,shape:{points:[[5,9],[12,9],[8.5,13]]},style:{fill:'#fff'}},
   {type:'polygon',silent:true,z:20,shape:{points:[[2001,2],[2011,2],[2006,7]]},style:{fill:'#9a9a9a'}},
   {type:'text',silent:true,z:20,left:17,top:5,style:{text:'XAUUSD,M30  4159.14 4160.59 4157.45 4158.55',fill:'#fff',font:'9.6px '+FONT}},
   {type:'text',silent:true,z:20,left:6,top:1119,style:{text:'MACD(12,26,9) -1.0873 -1.8288 1.4828 0.0000',fill:'#fff',font:'9.6px '+FONT}},
   {type:'text',silent:true,z:21,left:1160,top:1045,style:{text:'黄金30分钟周期图',fill:'#4496e6',font:'48px "Noto Sans CJK SC"'}},
   {type:'text',silent:true,z:21,left:2152,top:1112,style:{text:'缠禅说缠',fill:'#fff',font:'bold 90px "Noto Sans CJK SC"'}}
  ]
});
</script></body></html>
